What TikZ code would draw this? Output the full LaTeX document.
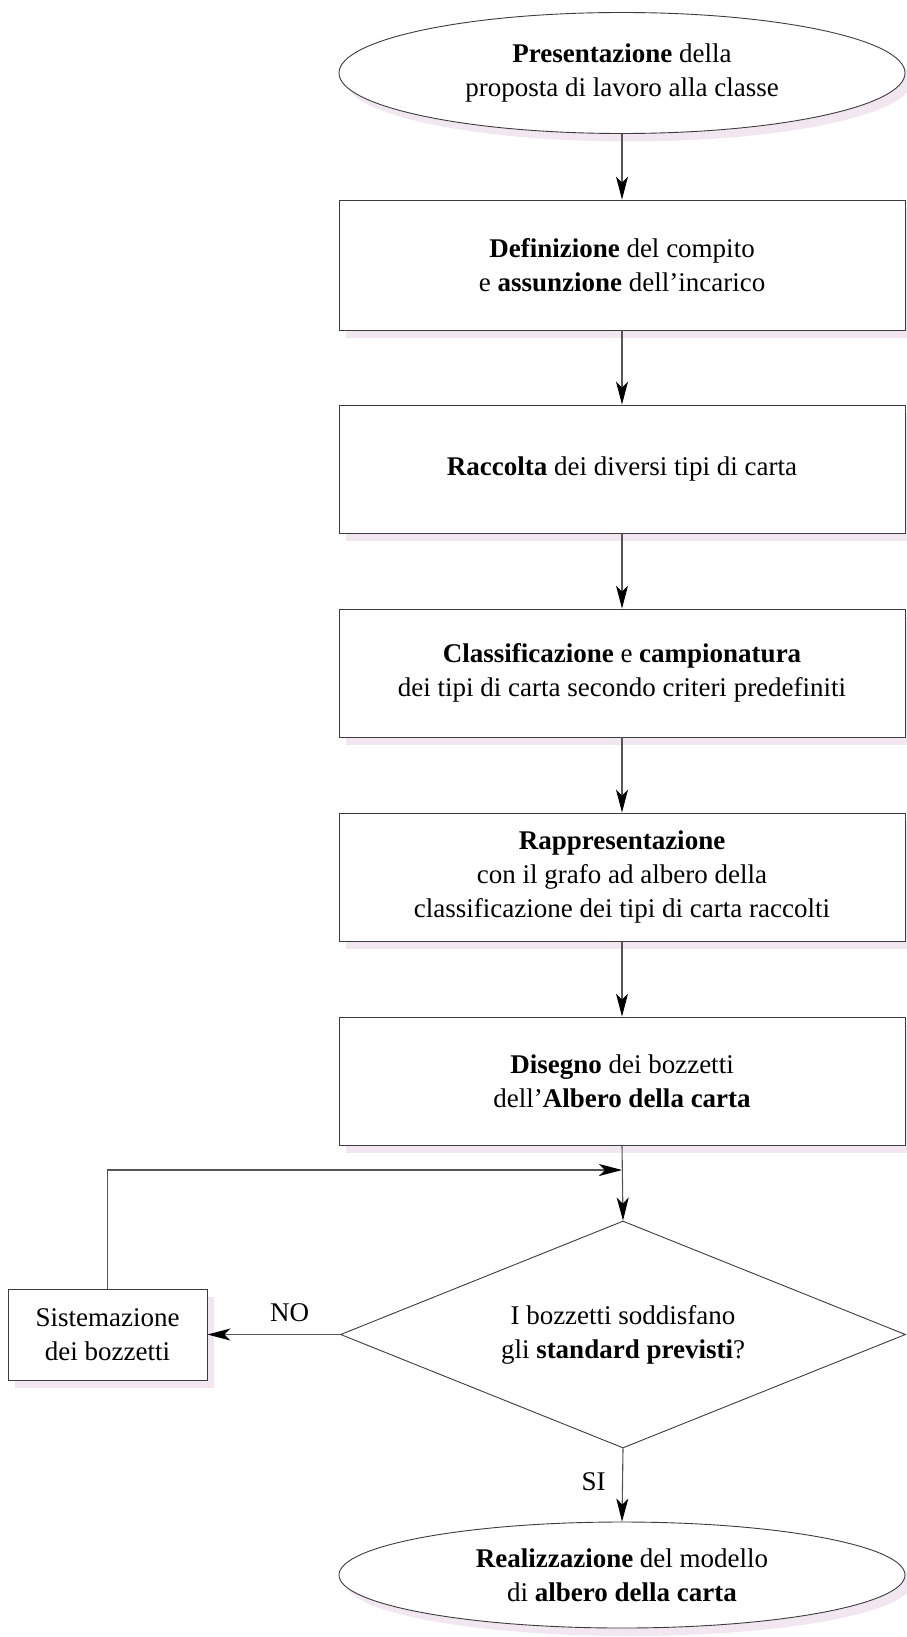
\documentclass[tikz,border=0pt]{standalone}
\usepackage{fontspec}
\setmainfont{Liberation Serif}
\usetikzlibrary{shapes.geometric,shadows,arrows.meta}
\definecolor{shadowc}{HTML}{F2E7F0}
\definecolor{linec}{HTML}{3C3C3C}
\definecolor{connc}{HTML}{555555}
\begin{document}
\begin{tikzpicture}[x=1pt,y=-1pt,
  txt/.style={font=\fontsize{27}{34}\selectfont, align=center, text=black},
  shad/.style={general shadow={fill=shadowc, shadow xshift=7pt, shadow yshift=-8pt}},
  procbox/.style={txt, shad, draw=linec, fill=white, line width=0.9pt, rectangle, minimum width=566pt, minimum height=128pt, inner sep=0pt},
  termel/.style={txt, shad, draw=linec, fill=white, line width=0.9pt, ellipse, minimum width=566pt, inner sep=0pt},
  decis/.style={txt, draw=linec, fill=white, line width=0.9pt, diamond, aspect=2.49, minimum width=565pt, minimum height=227pt, inner sep=0pt},
  conn/.style={draw=connc, line width=1.1pt, -{Stealth[length=23pt,width=12pt,inset=6pt,color=black]}},
  lbl/.style={font=\fontsize{27}{30}\selectfont, text=black}
]
\useasboundingbox (0,0) rectangle (906,1637);

\node[termel, minimum height=121pt] (start) at (622,73)
  {\textbf{Presentazione} della\\proposta di lavoro alla classe};
\node[procbox, minimum height=130pt] (b1) at (622,265)
  {\textbf{Definizione} del compito\\e \textbf{assunzione} dell’incarico};
\node[procbox] (b2) at (622,469)
  {\textbf{Raccolta} dei diversi tipi di carta};
\node[procbox] (b3) at (622,673)
  {\textbf{Classificazione} e \textbf{campionatura}\\dei tipi di carta secondo criteri predefiniti};
\node[procbox] (b4) at (622,877)
  {\textbf{Rappresentazione}\\con il grafo ad albero della\\classificazione dei tipi di carta raccolti};
\node[procbox] (b5) at (622,1081)
  {\textbf{Disegno} dei bozzetti\\dell’\textbf{Albero della carta}};
\node[decis] (d) at (623,1334.5)
  {I bozzetti soddisfano\\gli \textbf{standard previsti}?};
\node[txt, shad, draw=linec, fill=white, line width=0.9pt, rectangle, minimum width=199pt, minimum height=91pt, inner sep=0pt] (fix) at (107.5,1334.5)
  {Sistemazione\\dei bozzetti};
\node[termel, minimum height=106pt] (end) at (622,1575)
  {\textbf{Realizzazione} del modello\\di \textbf{albero della carta}};

\coordinate (j) at (b5.south |- 0,1170);

\draw[conn] (start.south -| b1.north) -- (b1.north);
\draw[conn] (b1) -- (b2);
\draw[conn] (b2) -- (b3);
\draw[conn] (b3) -- (b4);
\draw[conn] (b4) -- (b5);
\draw[conn] (b5.south) -- (d.north);
\draw[conn] (fix.north) |- (j);
\draw[conn] (d.west) -- node[lbl, above=9pt, pos=0.38] {NO} (fix.east);
\draw[conn] (d.south) -- node[lbl, left=13pt, pos=0.45] {SI} (end.north);
\end{tikzpicture}
\end{document}
